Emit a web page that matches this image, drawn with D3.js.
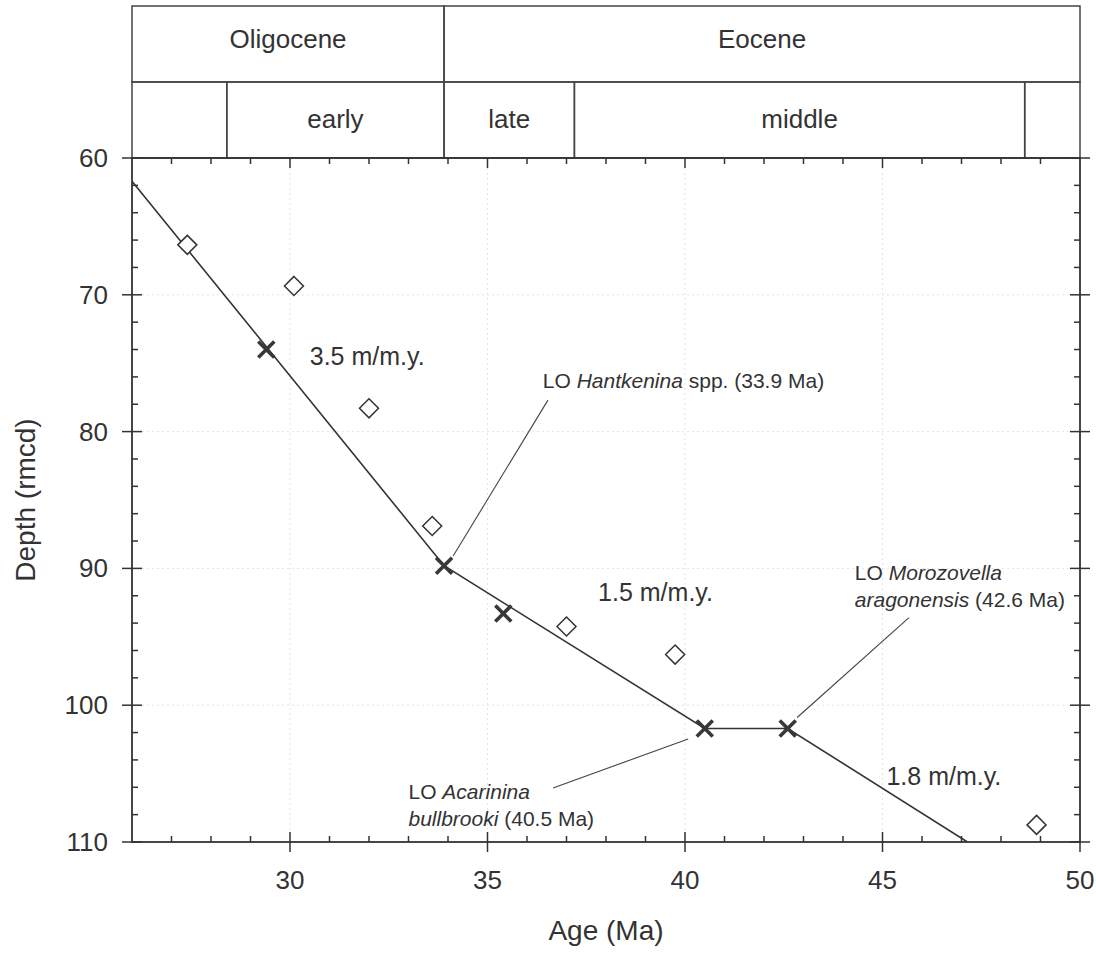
<!DOCTYPE html>
<html>
<head>
<meta charset="utf-8">
<script src="https://cdn.jsdelivr.net/npm/d3@7"></script>
<style>
  html, body { margin: 0; padding: 0; background: #fff; }
  svg { display: block; font-family: "Liberation Sans", Arial, Helvetica, sans-serif; }
</style>
</head>
<body>
<div id="chart"></div>
<script>
// Age-depth plot with epoch header strip

// time scale header
const epochNames = ['Oligocene', 'Eocene'];
const epochBounds = [26, 33.9, 50];
const subNames = ['', 'early', 'late', 'middle', ''];
const subBounds = [26, 28.4, 33.9, 37.2, 48.6, 50];

// age model (piecewise line)
const lineAge = [26, 33.9, 40.5, 42.6, 47.15];
const lineDepth = [61.7, 89.8, 101.7, 101.7, 110];

// datums used in the model (crosses)
const crossAge = [29.4, 33.9, 35.4, 40.5, 42.6];
const crossDepth = [74.0, 89.8, 93.3, 101.7, 101.7];

// other datums (open diamonds)
const diamondAge = [27.4, 30.1, 32.0, 33.6, 37.0, 39.75, 48.9];
const diamondDepth = [66.35, 69.35, 78.3, 86.9, 94.25, 96.3, 108.75];

const xTicks = [30, 35, 40, 45, 50];
const yTicks = [60, 70, 80, 90, 100, 110];

// sedimentation rate labels
const rateText = ['3.5 m/m.y.', '1.5 m/m.y.', '1.8 m/m.y.'];
const rateAge = [30.5, 37.8, 45.1];
const rateDepth = [75.1, 92.35, 105.8];

// datum labels: lines of [text, italic] runs
const noteLines = [
  [[['LO ', 0], ['Hantkenina', 1], [' spp. (33.9 Ma)', 0]]],
  [[['LO ', 0], ['Morozovella', 1]], [['aragonensis', 1], [' (42.6 Ma)', 0]]],
  [[['LO ', 0], ['Acarinina', 1]], [['bullbrooki', 1], [' (40.5 Ma)', 0]]],
];
const noteAge = [36.4, 44.3, 33.0];
const noteDepth = [76.8, 90.85, 106.86];
const leaderFrom = [[36.53, 77.7], [45.67, 93.6], [36.66, 106.05]];
const leaderTo = [[34.13, 89.1], [42.84, 100.9], [40.08, 102.47]];

const W = 1096, H = 956;
const PLOT = { left: 132, right: 1080, top: 158, bottom: 842 };
const HEAD = { top: 6, mid: 82 };
const INK = '#333';

const svg = d3.select('#chart').append('svg')
  .attr('width', W).attr('height', H)
  .attr('viewBox', `0 0 ${W} ${H}`);

const x = d3.scaleLinear().domain([26, 50]).range([PLOT.left, PLOT.right]);
const y = d3.scaleLinear().domain([60, 110]).range([PLOT.top, PLOT.bottom]);

// faint grid
const grid = svg.append('g').attr('stroke', '#e4e4e4').attr('stroke-width', 1).attr('stroke-dasharray', '2,3');
grid.selectAll('.gx').data(xTicks.slice(0, -1)).join('line')
  .attr('x1', d => x(d)).attr('x2', d => x(d)).attr('y1', PLOT.top).attr('y2', PLOT.bottom);
grid.selectAll('.gy').data(yTicks.slice(1, -1)).join('line')
  .attr('x1', PLOT.left).attr('x2', PLOT.right).attr('y1', d => y(d)).attr('y2', d => y(d));

// header boxes
const head = svg.append('g').attr('fill', 'none').attr('stroke', '#444').attr('stroke-width', 1.5);
const epochs = epochNames.map((n, i) => ({ n, a: epochBounds[i], b: epochBounds[i + 1] }));
const subs = subNames.map((n, i) => ({ n, a: subBounds[i], b: subBounds[i + 1] }));

head.selectAll('.ep').data(epochs).join('rect')
  .attr('x', d => x(d.a)).attr('width', d => x(d.b) - x(d.a))
  .attr('y', HEAD.top).attr('height', HEAD.mid - HEAD.top);
head.selectAll('.sb').data(subs).join('rect')
  .attr('x', d => x(d.a)).attr('width', d => x(d.b) - x(d.a))
  .attr('y', HEAD.mid).attr('height', PLOT.top - HEAD.mid);

const headText = svg.append('g').attr('fill', INK).attr('font-size', 26).attr('text-anchor', 'middle');
headText.selectAll('.ept').data(epochs).join('text')
  .attr('x', d => (x(d.a) + x(d.b)) / 2).attr('y', 48)
  .text(d => d.n);
headText.selectAll('.sbt').data(subs).join('text')
  .attr('x', d => (x(d.a) + x(d.b)) / 2).attr('y', 128)
  .text(d => d.n);

// plot frame
svg.append('rect')
  .attr('x', PLOT.left).attr('y', PLOT.top)
  .attr('width', PLOT.right - PLOT.left).attr('height', PLOT.bottom - PLOT.top)
  .attr('fill', 'none').attr('stroke', INK).attr('stroke-width', 1.8);

// tick marks: major cross the frame, minor point inward
const tk = svg.append('g').attr('stroke', INK).attr('stroke-width', 1.5);
const xMinor = d3.range(27, 50, 1).filter(d => d % 5 !== 0);
const yMinor = d3.range(62, 110, 2).filter(d => d % 10 !== 0);

tk.selectAll('.xb').data(xTicks.slice(0, -1)).join('line')
  .attr('x1', d => x(d)).attr('x2', d => x(d)).attr('y1', PLOT.bottom - 10).attr('y2', PLOT.bottom + 10);
tk.selectAll('.xbm').data(xMinor).join('line')
  .attr('x1', d => x(d)).attr('x2', d => x(d)).attr('y1', PLOT.bottom - 6).attr('y2', PLOT.bottom);
tk.selectAll('.xt').data(xTicks.slice(0, -1)).join('line')
  .attr('x1', d => x(d)).attr('x2', d => x(d)).attr('y1', PLOT.top).attr('y2', PLOT.top + 10);
tk.selectAll('.xtm').data(xMinor).join('line')
  .attr('x1', d => x(d)).attr('x2', d => x(d)).attr('y1', PLOT.top).attr('y2', PLOT.top + 6);
tk.selectAll('.yl').data(yTicks).join('line')
  .attr('x1', PLOT.left - 10).attr('x2', PLOT.left + 10).attr('y1', d => y(d)).attr('y2', d => y(d));
tk.selectAll('.ylm').data(yMinor).join('line')
  .attr('x1', PLOT.left).attr('x2', PLOT.left + 6).attr('y1', d => y(d)).attr('y2', d => y(d));
tk.selectAll('.yr').data(yTicks).join('line')
  .attr('x1', PLOT.right - 10).attr('x2', PLOT.right + 10).attr('y1', d => y(d)).attr('y2', d => y(d));
tk.selectAll('.yrm').data(yMinor).join('line')
  .attr('x1', PLOT.right - 6).attr('x2', PLOT.right).attr('y1', d => y(d)).attr('y2', d => y(d));
// bottom-right corner tick
tk.append('line').attr('x1', x(50)).attr('x2', x(50)).attr('y1', PLOT.bottom).attr('y2', PLOT.bottom + 10);

// tick labels
const lab = svg.append('g').attr('fill', INK).attr('font-size', 26);
lab.selectAll('.xl').data(xTicks).join('text')
  .attr('x', d => x(d)).attr('y', PLOT.bottom + 47).attr('text-anchor', 'middle')
  .text(d => d);
lab.selectAll('.yl').data(yTicks).join('text')
  .attr('x', PLOT.left - 24).attr('y', d => y(d) + 9).attr('text-anchor', 'end')
  .text(d => d);

// axis titles
svg.append('text').attr('x', (PLOT.left + PLOT.right) / 2).attr('y', 940)
  .attr('text-anchor', 'middle').attr('font-size', 28).attr('fill', INK).text('Age (Ma)');
svg.append('text')
  .attr('transform', `translate(35,${(PLOT.top + PLOT.bottom) / 2}) rotate(-90)`)
  .attr('text-anchor', 'middle').attr('font-size', 28).attr('fill', INK).text('Depth (rmcd)');

// age model line, clipped to the plot
svg.append('clipPath').attr('id', 'plotclip').append('rect')
  .attr('x', PLOT.left).attr('y', PLOT.top)
  .attr('width', PLOT.right - PLOT.left).attr('height', PLOT.bottom - PLOT.top);

const modelLine = d3.line().x(d => x(d[0])).y(d => y(d[1]));
svg.append('path')
  .attr('clip-path', 'url(#plotclip)')
  .attr('d', modelLine(d3.zip(lineAge, lineDepth)))
  .attr('fill', 'none').attr('stroke', INK).attr('stroke-width', 1.6);

// leader lines
svg.append('g').attr('stroke', '#444').attr('stroke-width', 1.1)
  .selectAll('line').data(d3.zip(leaderFrom, leaderTo)).join('line')
  .attr('x1', d => x(d[0][0])).attr('y1', d => y(d[0][1]))
  .attr('x2', d => x(d[1][0])).attr('y2', d => y(d[1][1]));

// diamonds
svg.append('g').selectAll('path').data(d3.zip(diamondAge, diamondDepth)).join('path')
  .attr('transform', d => `translate(${x(d[0])},${y(d[1])})`)
  .attr('d', 'M0,-9.5L9.5,0L0,9.5L-9.5,0Z')
  .attr('fill', '#fff').attr('stroke', INK).attr('stroke-width', 1.5);

// crosses
svg.append('g').selectAll('path').data(d3.zip(crossAge, crossDepth)).join('path')
  .attr('transform', d => `translate(${x(d[0])},${y(d[1])})`)
  .attr('d', 'M-8,-8L8,8M8,-8L-8,8')
  .attr('fill', 'none').attr('stroke', '#383838').attr('stroke-width', 3.6);

// rate labels
svg.append('g').attr('fill', INK).attr('font-size', 25)
  .selectAll('text').data(rateText).join('text')
  .attr('x', (d, i) => x(rateAge[i])).attr('y', (d, i) => y(rateDepth[i]))
  .text(d => d);

// datum labels
const notes = svg.append('g').attr('fill', INK).attr('font-size', 21);
noteLines.forEach((lines, i) => {
  const t = notes.append('text').attr('x', x(noteAge[i])).attr('y', y(noteDepth[i]));
  lines.forEach((runs, j) => {
    runs.forEach((r, k) => {
      const ts = t.append('tspan').text(r[0]).attr('font-style', r[1] ? 'italic' : null);
      if (k === 0 && j > 0) ts.attr('x', x(noteAge[i])).attr('dy', 27);
    });
  });
});
</script>
</body>
</html>
